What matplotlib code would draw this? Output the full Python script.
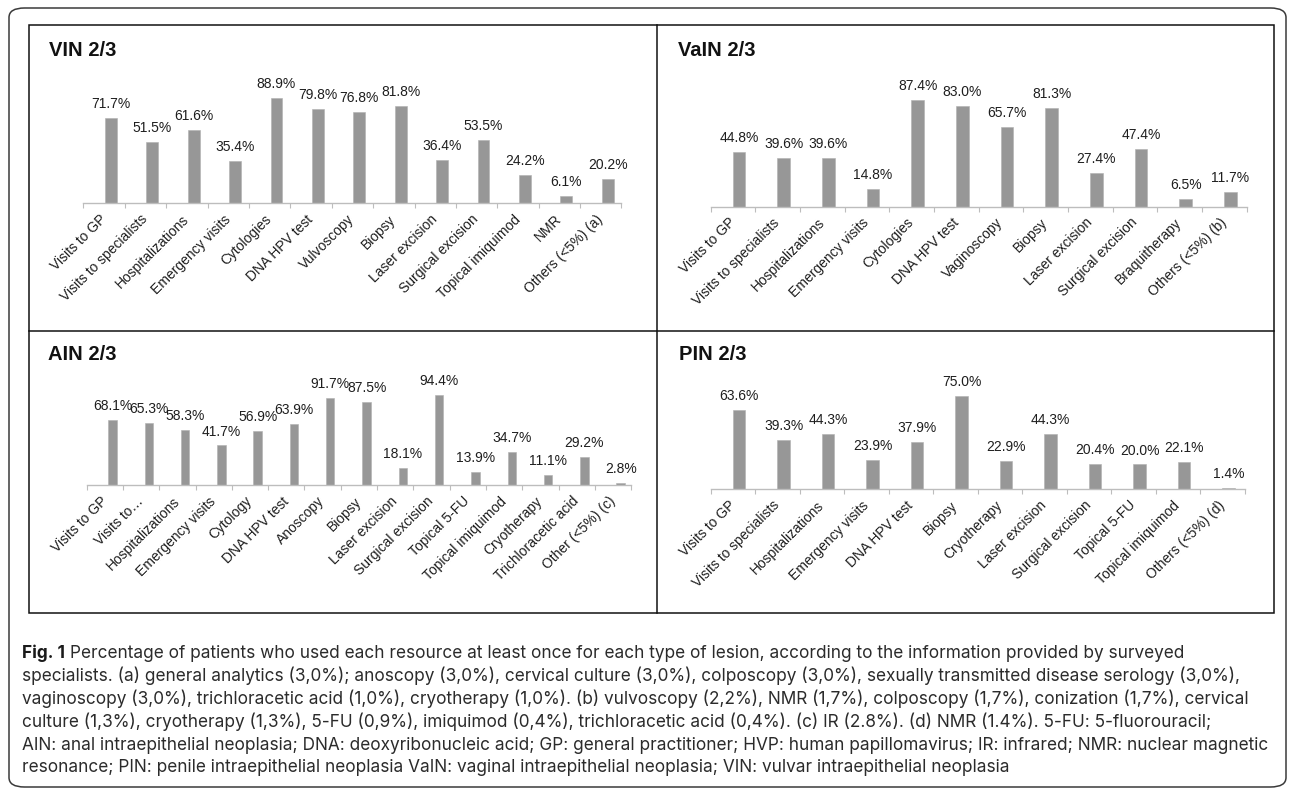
import matplotlib
matplotlib.use("Agg")
import matplotlib.pyplot as plt
import numpy as np
from matplotlib.patches import FancyBboxPatch, Rectangle
from matplotlib.lines import Line2D

W, H = 1290, 791

vin_cats = ["Visits to GP", "Visits to specialists", "Hospitalizations", "Emergency visits",
            "Cytologies", "DNA HPV test", "Vulvoscopy", "Biopsy", "Laser excision",
            "Surgical excision", "Topical imiquimod", "NMR", "Others (<5%) (a)"]
vin_vals = [71.7, 51.5, 61.6, 35.4, 88.9, 79.8, 76.8, 81.8, 36.4, 53.5, 24.2, 6.1, 20.2]

vain_cats = ["Visits to GP", "Visits to specialists", "Hospitalizations", "Emergency visits",
             "Cytologies", "DNA HPV test", "Vaginoscopy", "Biopsy", "Laser excision",
             "Surgical excision", "Braquitherapy", "Others (<5%) (b)"]
vain_vals = [44.8, 39.6, 39.6, 14.8, 87.4, 83.0, 65.7, 81.3, 27.4, 47.4, 6.5, 11.7]

ain_cats = ["Visits to GP", "Visits to…", "Hospitalizations", "Emergency visits", "Cytology",
            "DNA HPV test", "Anoscopy", "Biopsy", "Laser excision", "Surgical excision",
            "Topical 5-FU", "Topical imiquimod", "Cryotherapy", "Trichloracetic acid",
            "Other (<5%) (c)"]
ain_vals = [68.1, 65.3, 58.3, 41.7, 56.9, 63.9, 91.7, 87.5, 18.1, 94.4, 13.9, 34.7, 11.1, 29.2, 2.8]

pin_cats = ["Visits to GP", "Visits to specialists", "Hospitalizations", "Emergency visits",
            "DNA HPV test", "Biopsy", "Cryotherapy", "Laser excision", "Surgical excision",
            "Topical 5-FU", "Topical imiquimod", "Others (<5%) (d)"]
pin_vals = [63.6, 39.3, 44.3, 23.9, 37.9, 75.0, 22.9, 44.3, 20.4, 20.0, 22.1, 1.4]

caption_lines = [
    "Percentage of patients who used each resource at least once for each type of lesion, according to the information provided by surveyed",
    "specialists. (a) general analytics (3,0%); anoscopy (3,0%), cervical culture (3,0%), colposcopy (3,0%), sexually transmitted disease serology (3,0%),",
    "vaginoscopy (3,0%), trichloracetic acid (1,0%), cryotherapy (1,0%). (b) vulvoscopy (2,2%), NMR (1,7%), colposcopy (1,7%), conization (1,7%), cervical",
    "culture (1,3%), cryotherapy (1,3%), 5-FU (0,9%), imiquimod (0,4%), trichloracetic acid (0,4%). (c) IR (2.8%). (d) NMR (1.4%). 5-FU: 5-fluorouracil;",
    "AIN: anal intraepithelial neoplasia; DNA: deoxyribonucleic acid; GP: general practitioner; HVP: human papillomavirus; IR: infrared; NMR: nuclear magnetic",
    "resonance; PIN: penile intraepithelial neoplasia VaIN: vaginal intraepithelial neoplasia; VIN: vulvar intraepithelial neoplasia",
]

plt.rcParams['font.family'] = ['Liberation Sans', 'DejaVu Sans']
bar_color = '#979797'
axis_color = '#bdbdbd'
text_color = '#1e1e1e'
cap_font = 'Inter'


def fx(x):
    return x / W


def fy(y):
    return 1 - y / H


fig = plt.figure(figsize=(W / 100, H / 100), dpi=100)

# outer rounded frame and inner panel grid
fig.patches.append(FancyBboxPatch((fx(9), fy(787)), fx(1286) - fx(9), fy(8) - fy(787),
                                  boxstyle="round,pad=0,rounding_size=0.012",
                                  transform=fig.transFigure, fill=False,
                                  edgecolor='#3a3a3a', linewidth=1.1))
fig.patches.append(Rectangle((fx(29), fy(613)), fx(1274) - fx(29), fy(25) - fy(613),
                             transform=fig.transFigure, fill=False,
                             edgecolor='#111111', linewidth=1.1))
fig.lines.append(Line2D([fx(657), fx(657)], [fy(25), fy(613)], transform=fig.transFigure,
                        color='#111111', linewidth=1.1))
fig.lines.append(Line2D([fx(29), fx(1274)], [fy(330.5), fy(330.5)], transform=fig.transFigure,
                        color='#111111', linewidth=1.1))

# title, cats, vals, axis left px, category width px, baseline px, px per %, ymax,
# bar offset, bar width, title x, title y
panels = [
    ("VIN 2/3", vin_cats, vin_vals, 83.3, 41.4, 203.3, 1.187, 100, 0.165, 0.285, 49, 50),
    ("VaIN 2/3", vain_cats, vain_vals, 710.7, 44.67, 206.5, 1.215, 100, 0.134, 0.285, 678, 50.5),
    ("AIN 2/3", ain_cats, ain_vals, 86.7, 36.3, 485.3, 0.957, 100, 0.21, 0.23, 48, 355),
    ("PIN 2/3", pin_cats, pin_vals, 710.7, 44.5, 489.3, 1.245, 80, 0.137, 0.285, 679, 355),
]

for title, cats, vals, left, cw, base, scale, ymax, off, bw, tx, ty in panels:
    n = len(cats)
    ax = fig.add_axes([fx(left), fy(base), n * cw / W, ymax * scale / H])
    ax.set_xlim(0, n)
    ax.set_ylim(0, ymax)
    ax.patch.set_alpha(0)
    xs = np.arange(n) + 0.5 + off
    ax.bar(xs, vals, width=bw, color=bar_color, edgecolor='#b0b0b0', linewidth=0.4)
    for x, v in zip(xs, vals):
        ax.annotate(f"{v:.1f}%", (x, v), xytext=(0, 10), textcoords='offset points',
                    ha='center', va='center', fontsize=10, color=text_color)
    for s in ['top', 'right', 'left']:
        ax.spines[s].set_visible(False)
    ax.spines['bottom'].set_color(axis_color)
    ax.spines['bottom'].set_linewidth(1.0)
    ax.set_yticks([])
    ax.set_xticks(np.arange(n + 1))
    ax.set_xticklabels([])
    ax.tick_params(axis='x', which='major', length=3.6, width=0.8, color=axis_color, direction='out')
    ax.set_xticks(np.arange(n) + 0.5, minor=True)
    ax.set_xticklabels(cats, minor=True, rotation=45, ha='right', va='center',
                       rotation_mode='anchor', fontsize=10, color=text_color)
    ax.tick_params(axis='x', which='minor', length=0, pad=10)
    fig.text(fx(tx), fy(ty), title, fontsize=14.5, fontweight='bold', va='center',
             ha='left', color='#111111')

# caption, sized so that the widest line reaches the right edge of the panel box
fig.canvas.draw()
renderer = fig.canvas.get_renderer()
probe = fig.text(0, 0, caption_lines[4], family=cap_font, fontsize=10)
probe_w = probe.get_window_extent(renderer).width
probe.remove()
cap_size = 10 * (1274 - 22) / probe_w
y0 = 653
t = fig.text(fx(22), fy(y0), "Fig. 1", family=cap_font, fontweight='bold', fontsize=cap_size,
             va='center', ha='left', color='#1a1a1a')
bb = t.get_window_extent(renderer)
x_after = bb.x1 / W + 5 / W
for i, line in enumerate(caption_lines):
    xpos = x_after if i == 0 else fx(22)
    fig.text(xpos, fy(y0 + 23 * i), line, family=cap_font, fontsize=cap_size,
             va='center', ha='left', color='#2b2b2b')

fig.savefig("out.png", dpi=100)
